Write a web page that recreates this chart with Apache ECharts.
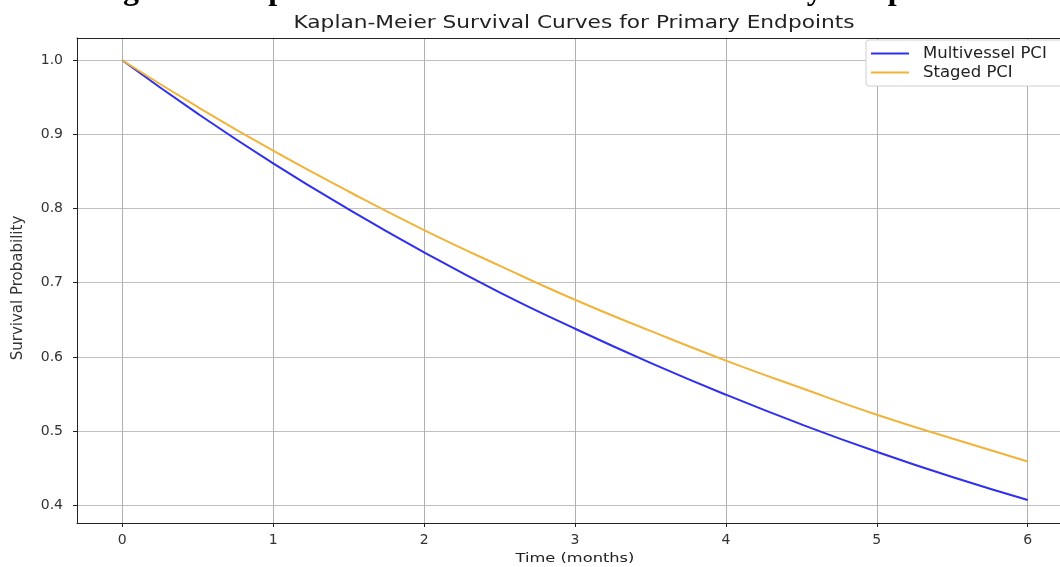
<!DOCTYPE html>
<html>
<head>
<meta charset="utf-8">
<title>Kaplan-Meier Survival Curves</title>
<script src="https://cdn.jsdelivr.net/npm/echarts@6/dist/echarts.min.js"></script>
<style>
  html, body { margin: 0; padding: 0; background: #fff; overflow: hidden; }
  #chart { width: 1090px; height: 567px; }
</style>
</head>
<body>
<div id="chart"></div>
<script>
// months
var months = [0, 0.5, 1, 1.5, 2, 2.5, 3, 3.5, 4, 4.5, 5, 5.5, 6];
// values
var multivessel = [1.0, 0.928, 0.861, 0.799, 0.741, 0.687, 0.638, 0.592, 0.549, 0.509, 0.472, 0.438, 0.407];
var staged = [1.0, 0.937, 0.878, 0.823, 0.771, 0.723, 0.677, 0.635, 0.595, 0.558, 0.522, 0.490, 0.459];
var xTicks = [0, 1, 2, 3, 4, 5, 6];
var yTicks = [0.4, 0.5, 0.6, 0.7, 0.8, 0.9, 1.0];

var chart = echarts.init(document.getElementById('chart'));

var pairs = function (xs, ys) {
    var out = [];
    for (var i = 0; i < xs.length; i++) {
        out.push([xs[i], ys[i]]);
    }
    return out;
};

var font = 'DejaVu Sans, sans-serif';

var option = {
    backgroundColor: '#ffffff',
    animation: false,
    graphic: [
        {
            // caption of the figure, cut off by the top edge
            type: 'text',
            x: 533,
            y: -25,
            style: {
                text: 'Figure 1: Kaplan-Meier Survival Curves for Primary Endpoints',
                align: 'center',
                fontFamily: 'Liberation Serif, Times New Roman, serif',
                fontWeight: 'bold',
                fontSize: 32,
                fill: '#000'
            }
        },
        {
            type: 'text',
            x: 574,
            y: 23,
            scaleX: 1.24,
            style: {
                text: 'Kaplan-Meier Survival Curves for Primary Endpoints',
                align: 'center',
                verticalAlign: 'middle',
                fontFamily: font,
                fontSize: 17.5,
                fill: '#222'
            }
        },
        {
            type: 'text',
            x: 18,
            y: 288,
            rotation: Math.PI / 2,
            style: {
                text: 'Survival Probability',
                align: 'center',
                verticalAlign: 'middle',
                fontFamily: font,
                fontSize: 15,
                fill: '#333'
            }
        },
        {
            type: 'text',
            x: 575,
            y: 559,
            scaleX: 1.25,
            style: {
                text: 'Time (months)',
                align: 'center',
                verticalAlign: 'middle',
                fontFamily: font,
                fontSize: 13,
                fill: '#222'
            }
        }
    ],
    legend: {
        left: 866,
        top: 40,
        orient: 'vertical',
        itemWidth: 38,
        itemHeight: 2,
        itemGap: 2,
        padding: [5, 30, 5, 5],
        backgroundColor: '#fff',
        borderColor: '#d0d0d0',
        borderWidth: 1,
        borderRadius: 3,
        icon: 'rect',
        textStyle: { fontFamily: font, fontSize: 16.5, color: '#222', padding: [0, 0, 0, 9] },
        data: ['Multivessel PCI', 'Staged PCI']
    },
    grid: {
        left: 77,
        top: 38,
        width: 996,
        height: 485,
        outerBoundsMode: 'none',
        containLabel: false,
        show: false
    },
    xAxis: [
        {
            type: 'value',
            min: -0.3,
            max: 6.3,
            axisLine: { show: true, onZero: false, lineStyle: { color: '#222', width: 1 } },
            axisTick: { show: true, length: 4, lineStyle: { color: '#222' }, customValues: xTicks },
            axisLabel: {
                customValues: xTicks,
                margin: 10,
                fontFamily: font,
                fontSize: 14,
                color: '#333'
            },
            splitLine: { show: true, lineStyle: { color: '#b0b0b0', width: 1 } }
        },
        {
            // top spine only
            type: 'value',
            position: 'top',
            min: -0.3,
            max: 6.3,
            axisLine: { show: true, onZero: false, lineStyle: { color: '#222', width: 1 } },
            axisTick: { show: false },
            axisLabel: { show: false },
            splitLine: { show: false }
        }
    ],
    yAxis: {
        type: 'value',
        min: 0.376,
        max: 1.03,
        axisLine: { show: true, onZero: false, lineStyle: { color: '#222', width: 1 } },
        axisTick: { show: true, length: 4, lineStyle: { color: '#222' }, customValues: yTicks },
        axisLabel: {
            customValues: yTicks,
            margin: 14,
            fontFamily: font,
            fontSize: 14,
            color: '#333',
            formatter: function (v) { return v.toFixed(1); }
        },
        splitLine: { show: true, lineStyle: { color: '#c0c0c0', width: 1 } }
    },
    series: [
        {
            name: 'Multivessel PCI',
            type: 'line',
            smooth: true,
            showSymbol: false,
            color: '#2f2ff0',
            lineStyle: { width: 2, color: '#2f2ff0' },
            data: pairs(months, multivessel)
        },
        {
            name: 'Staged PCI',
            type: 'line',
            smooth: true,
            showSymbol: false,
            color: '#f2b33a',
            lineStyle: { width: 2, color: '#f2b33a' },
            data: pairs(months, staged)
        }
    ]
};

chart.setOption(option);
</script>
</body>
</html>
